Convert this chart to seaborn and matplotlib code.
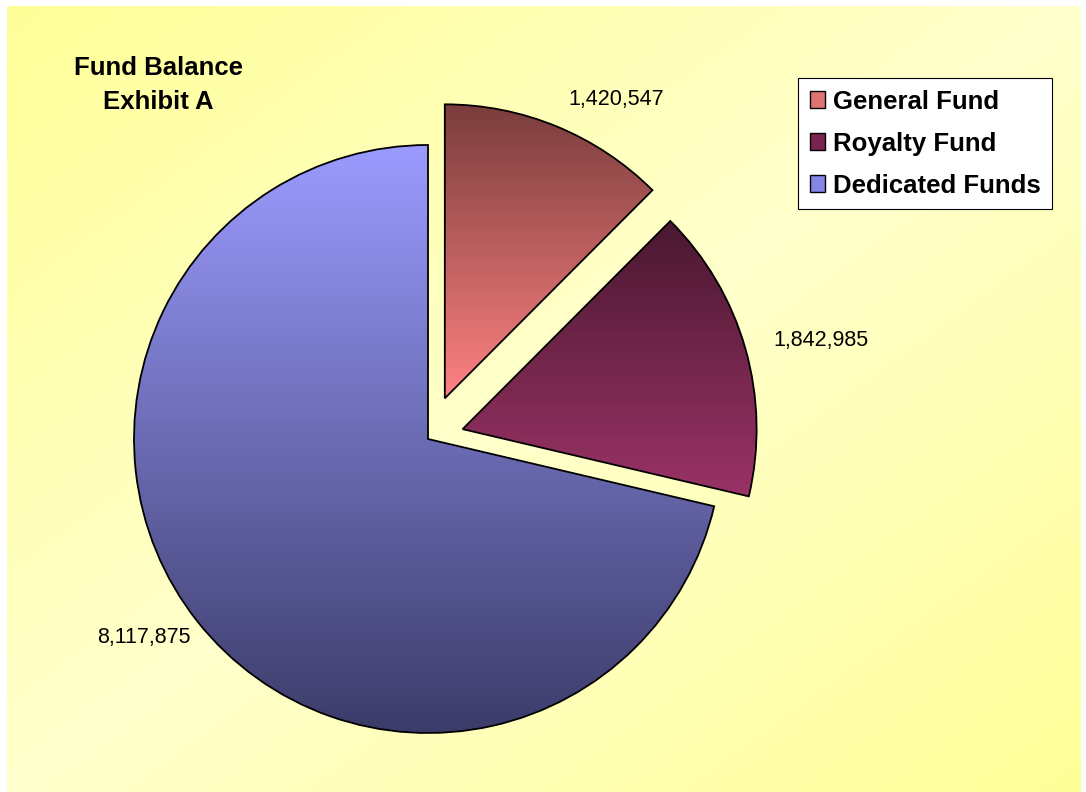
import numpy as np
import matplotlib
matplotlib.use("Agg")
import matplotlib.pyplot as plt
from matplotlib.colors import to_rgb
from matplotlib.patches import Patch
import seaborn as sns

# Fund balances
funds = ["General Fund", "Royalty Fund", "Dedicated Funds"]
balances = [1420547, 1842985, 8117875]

sns.set_theme(style="white")
plt.rcParams["font.family"] = ["Liberation Sans", "DejaVu Sans"]
plt.rcParams["text.color"] = "black"

W, H = 1086, 792
fig = plt.figure(figsize=(W / 100, H / 100), dpi=100)
fig.patch.set_facecolor("white")
ax = fig.add_axes([0, 0, 1, 1])
ax.set_facecolor("none")

# Diagonal yellow background: strong at two corners, pale along the other diagonal
gx = np.linspace(0, 1, 400)
gy = np.linspace(0, 1, 300)
GX, GY = np.meshgrid(gx, gy)
t = (GX + (1 - GY)) / 2.0          # 0 at top-left, 1 at bottom-right
k = 1 - np.abs(2 * t - 1)           # 1 along the anti-diagonal
c_strong = np.array(to_rgb("#ffff99"))
c_pale = np.array(to_rgb("#ffffcc"))
bg = c_strong[None, None, :] * (1 - k[..., None]) + c_pale[None, None, :] * k[..., None]
ax.imshow(bg, extent=(7, 1081, 0, 786), origin="lower", aspect="auto", zorder=0)

# Top / bottom colours for each wedge's vertical gradient
grad_top = ["#7a3c3c", "#4a1830", "#9b9bff"]
grad_bot = ["#ff8282", "#9a3366", "#3c3c6a"]
legend_cols = ["#e07272", "#7a2452", "#8585e6"]

cx, cy, R = 428, 353, 294
explode = [44, 36, 0]
label_dist = [1.1, 1.1, 1.03]
label_va = ["center", "center", "top"]

wedges, texts = ax.pie(
    balances,
    labels=[f"{v:,}" for v in balances],
    explode=explode,
    center=(cx, cy),
    radius=R,
    startangle=90,
    counterclock=False,
    labeldistance=1.1,
    wedgeprops=dict(edgecolor="black", linewidth=1.3, facecolor="none"),
    textprops=dict(fontsize=15.5, color="black"),
    frame=True,
)

# Place each value label outside its wedge, aligned away from the pie centre
for w, txt, d, va in zip(wedges, texts, label_dist, label_va):
    th = np.deg2rad((w.theta1 + w.theta2) / 2)
    wx, wy = w.center
    x = wx + d * w.r * np.cos(th)
    y = wy + d * w.r * np.sin(th)
    txt.set_position((x, y))
    txt.set_ha("left" if x >= cx else "right")
    txt.set_va(va)

for w, ctop, cbot in zip(wedges, grad_top, grad_bot):
    bb = w.get_path().get_extents()
    n = 256
    s = np.linspace(0, 1, n)[:, None]
    a, b = np.array(to_rgb(cbot)), np.array(to_rgb(ctop))
    img = (a[None, :] * (1 - s) + b[None, :] * s)[:, None, :]
    im = ax.imshow(img, extent=(bb.x0, bb.x1, bb.y0, bb.y1), origin="lower",
                   aspect="auto", zorder=1)
    im.set_clip_path(w)
    w.set_zorder(2)

ax.set_xlim(0, W)
ax.set_ylim(0, H)
ax.set_aspect("equal")
ax.axis("off")

ax.text(158, H - 85, "Fund Balance\nExhibit A", ha="center", va="center",
        fontsize=18.5, fontweight="bold", linespacing=1.55, multialignment="center",
        color="black")

handles = [Patch(facecolor=c, edgecolor="black", linewidth=1.0) for c in legend_cols]
leg = ax.legend(handles, funds, loc="upper left",
                bbox_to_anchor=(798 / W, 1 - 78 / H), bbox_transform=fig.transFigure,
                prop=dict(size=18.5, weight="bold"), frameon=True, fancybox=False,
                framealpha=1, edgecolor="black", facecolor="white",
                handlelength=0.6, handleheight=0.6, handletextpad=0.3,
                labelspacing=0.7, borderpad=0.45, borderaxespad=0)
leg.get_frame().set_linewidth(0.8)
for t_ in leg.get_texts():
    t_.set_color("black")

fig.savefig("out.png", dpi=100)
